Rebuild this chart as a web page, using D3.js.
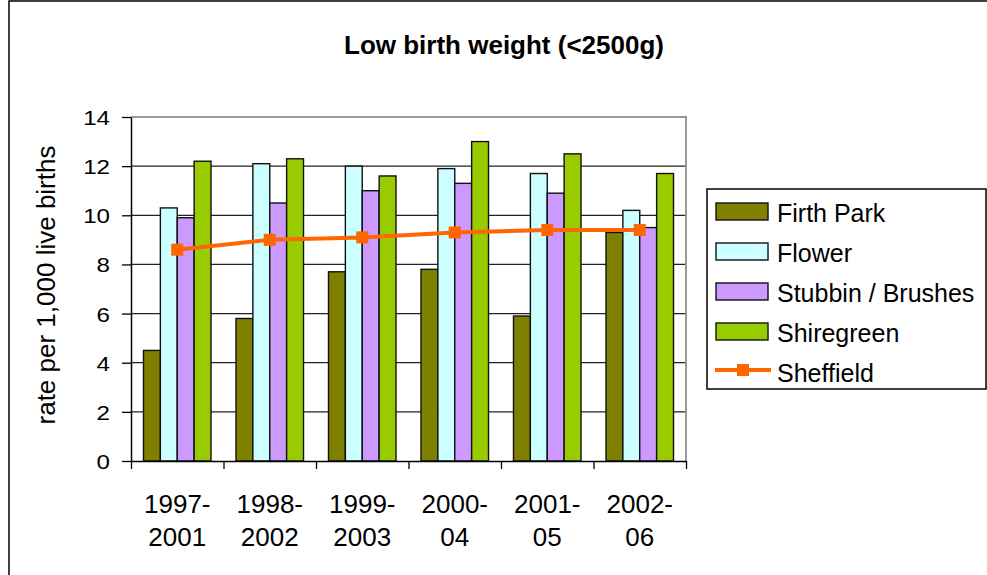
<!DOCTYPE html>
<html>
<head>
<meta charset="utf-8">
<script src="https://cdn.jsdelivr.net/npm/d3@7"></script>
<style>
  body { margin: 0; background: #fff; }
  text { font-family: "Liberation Sans", Arial, sans-serif; fill: #000; }
</style>
</head>
<body>
<div id="chart"></div>
<script>
// data
var periods = [["1997-", "2001"], ["1998-", "2002"], ["1999-", "2003"], ["2000-", "04"], ["2001-", "05"], ["2002-", "06"]];
var seriesNames = ["Firth Park", "Flower", "Stubbin / Brushes", "Shiregreen"];
var firthPark = [4.5, 5.8, 7.7, 7.8, 5.9, 9.3];
var flower = [10.3, 12.1, 12.0, 11.9, 11.7, 10.2];
var stubbin = [9.9, 10.5, 11.0, 11.3, 10.9, 9.5];
var shiregreen = [12.2, 12.3, 11.6, 13.0, 12.5, 11.7];
var sheffield = [8.6, 9.0, 9.1, 9.3, 9.4, 9.4];
var yTicks = [0, 2, 4, 6, 8, 10, 12, 14];

var colors = ["#808000", "#CCFFFF", "#CC99FF", "#99CC00"];
var lineColor = "#FF6600";

var svgWidth = 987;
var svgHeight = 575;

var plot = { left: 131, top: 117, right: 686, bottom: 461 };

var svg = d3.select("#chart")
  .append("svg")
  .attr("width", svgWidth)
  .attr("height", svgHeight);

// outer chart border
svg.append("rect")
  .attr("x", 9).attr("y", 1)
  .attr("width", 1000).attr("height", 600)
  .attr("fill", "none")
  .attr("stroke", "#000")
  .attr("stroke-width", 1.5);

var labels = periods.map(p => p.join(" "));
var barData = labels.map(function (lab, i) {
  return { label: lab, values: [firthPark[i], flower[i], stubbin[i], shiregreen[i]] };
});

var x0 = d3.scaleBand()
  .domain(labels)
  .range([plot.left, plot.right])
  .paddingInner(0.27)
  .paddingOuter(0.135);

var x1 = d3.scaleBand()
  .domain(seriesNames)
  .range([0, x0.bandwidth()]);

var xEdge = d3.scaleLinear().domain([0, labels.length]).range([plot.left, plot.right]);

var y = d3.scaleLinear().domain([0, 14]).range([plot.bottom, plot.top]);

// gridlines
svg.append("g")
  .selectAll("line")
  .data(yTicks.filter(t => t > 0 && t < 14))
  .enter()
  .append("line")
  .attr("x1", plot.left).attr("x2", plot.right)
  .attr("y1", d => y(d)).attr("y2", d => y(d))
  .attr("stroke", "#222")
  .attr("stroke-width", 1.3);

// plot border (top + right grey)
svg.append("path")
  .attr("d", `M${plot.left},${y(14)}H${plot.right}V${plot.bottom}`)
  .attr("fill", "none")
  .attr("stroke", "#999")
  .attr("stroke-width", 2);

// bars
var groups = svg.append("g")
  .selectAll("g")
  .data(barData)
  .enter()
  .append("g")
  .attr("transform", d => `translate(${x0(d.label)},0)`);

groups.selectAll("rect")
  .data(d => d.values.map((v, j) => ({ name: seriesNames[j], value: v })))
  .enter()
  .append("rect")
  .attr("x", d => x1(d.name))
  .attr("y", d => y(d.value))
  .attr("width", x1.bandwidth())
  .attr("height", d => y(0) - y(d.value))
  .attr("fill", (d, j) => colors[j])
  .attr("stroke", "#111")
  .attr("stroke-width", 1.4);

// y axis
var yAxis = svg.append("g")
  .attr("transform", `translate(${plot.left},0)`)
  .call(d3.axisLeft(y).tickValues(yTicks).tickSize(9).tickSizeOuter(0));
yAxis.select(".domain").attr("stroke", "#000").attr("stroke-width", 1.5);
yAxis.selectAll(".tick line").attr("stroke", "#000").attr("stroke-width", 1.3);
yAxis.selectAll(".tick text")
  .attr("x", -21 / 1.15)
  .attr("dy", "0.36em")
  .attr("transform", "scale(1.15,1)")
  .style("font-size", "21px")
  .style("font-family", "Liberation Sans, Arial, sans-serif");

// x axis (ticks at category boundaries)
var xAxis = svg.append("g")
  .attr("transform", `translate(0,${plot.bottom})`)
  .call(d3.axisBottom(xEdge).tickValues(d3.range(labels.length + 1)).tickFormat("").tickSize(8).tickSizeOuter(0));
xAxis.select(".domain").attr("stroke", "#000").attr("stroke-width", 1.5);
xAxis.selectAll(".tick line").attr("stroke", "#000").attr("stroke-width", 1.3);

// category labels, two lines
var catLabels = svg.append("g")
  .selectAll("text")
  .data(periods)
  .enter()
  .append("text")
  .attr("text-anchor", "middle")
  .style("font-size", "26px");
catLabels.append("tspan")
  .attr("x", (d, i) => x0(labels[i]) + x0.bandwidth() / 2)
  .attr("y", 513)
  .text(d => d[0]);
catLabels.append("tspan")
  .attr("x", (d, i) => x0(labels[i]) + x0.bandwidth() / 2)
  .attr("y", 546)
  .text(d => d[1]);

// Sheffield line
var line = d3.line()
  .x((d, i) => x0(labels[i]) + x0.bandwidth() / 2)
  .y(d => y(d));

svg.append("path")
  .datum(sheffield)
  .attr("d", line)
  .attr("fill", "none")
  .attr("stroke", lineColor)
  .attr("stroke-width", 4);

svg.append("g")
  .selectAll("rect")
  .data(sheffield)
  .enter()
  .append("rect")
  .attr("x", (d, i) => x0(labels[i]) + x0.bandwidth() / 2 - 6)
  .attr("y", d => y(d) - 6)
  .attr("width", 12)
  .attr("height", 12)
  .attr("fill", lineColor);

// title
svg.append("text")
  .attr("x", 504)
  .attr("y", 54)
  .attr("text-anchor", "middle")
  .style("font-size", "26px")
  .style("font-weight", "bold")
  .text("Low birth weight (<2500g)");

// y axis title
svg.append("text")
  .attr("transform", "translate(55,285) rotate(-90)")
  .attr("text-anchor", "middle")
  .style("font-size", "26px")
  .text("rate per 1,000 live births");

// legend
var legend = svg.append("g");
legend.append("rect")
  .attr("x", 707).attr("y", 189)
  .attr("width", 279).attr("height", 200)
  .attr("fill", "#fff")
  .attr("stroke", "#000")
  .attr("stroke-width", 1.5);

var legendItems = seriesNames.concat(["Sheffield"]);
var legendRows = legend.selectAll("g")
  .data(legendItems)
  .enter()
  .append("g")
  .attr("transform", (d, i) => `translate(0,${212 + i * 40})`);

legendRows.filter((d, i) => i < 4)
  .append("rect")
  .attr("x", 716).attr("y", -9)
  .attr("width", 52).attr("height", 17)
  .attr("fill", (d, i) => colors[i])
  .attr("stroke", "#111")
  .attr("stroke-width", 1.4);

var lastRow = legendRows.filter((d, i) => i === 4);
lastRow.append("line")
  .attr("x1", 715).attr("x2", 771)
  .attr("y1", -2).attr("y2", -2)
  .attr("stroke", lineColor)
  .attr("stroke-width", 4);
lastRow.append("rect")
  .attr("x", 737).attr("y", -8)
  .attr("width", 12).attr("height", 12)
  .attr("fill", lineColor);

legendRows.append("text")
  .attr("x", 777)
  .attr("y", 9.5)
  .style("font-size", "25px")
  .text(d => d);
</script>
</body>
</html>
